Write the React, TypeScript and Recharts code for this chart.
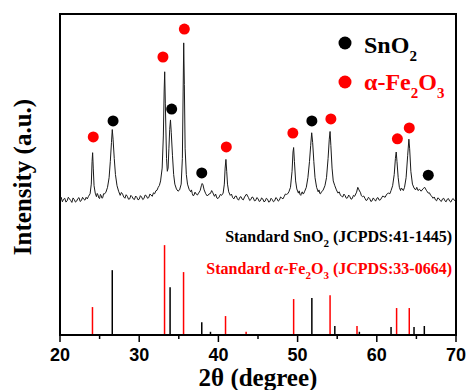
import { ComposedChart, Line, Scatter, XAxis, YAxis, ReferenceLine, ReferenceArea } from "recharts";

const SERIF = "'Liberation Serif', 'Times New Roman', serif";
const SANS = "'Liberation Sans', Arial, sans-serif";
const RED = "#ff0000";

// measured XRD pattern: [2theta, intensity]
const PATTERN: [number, number][] = [
  [20.0, 42.1], [20.15, 42.9], [20.3, 41.5], [20.45, 42.3], [20.6, 42.6], [20.75, 41.4], [20.9, 41.8],
  [21.05, 42.9], [21.2, 42.4], [21.35, 41.9], [21.5, 41.3], [21.65, 42.7], [21.8, 42.2], [21.95, 41.4],
  [22.1, 41.7], [22.25, 42.5], [22.4, 42.8], [22.55, 41.6], [22.7, 41.9], [22.85, 42.9], [23.0, 42.3],
  [23.15, 42.0], [23.3, 42.9], [23.45, 42.4], [23.6, 43.2], [23.8, 44.0],
  [23.95, 47], [24.05, 54], [24.12, 56.8], [24.2, 52], [24.3, 46.5], [24.45, 44.2], [24.6, 43.1],
  [24.7, 44.1], [24.8, 43.6], [24.9, 42.7], [25.0, 42.5], [25.1, 43.8], [25.2, 43.4], [25.3, 42.6],
  [25.4, 42.8], [25.5, 44.0], [25.6, 43.9], [25.8, 44.5], [26.0, 46.0],
  [26.2, 49], [26.35, 54], [26.5, 60], [26.6, 64], [26.7, 61], [26.85, 55], [27.0, 50], [27.2, 46.5],
  [27.4, 44.8], [27.6, 43.5], [27.75, 44.4], [27.9, 43.9], [28.05, 43.0], [28.2, 42.6], [28.35, 43.7],
  [28.5, 43.2], [28.65, 42.3], [28.8, 42.4], [28.95, 43.5], [29.1, 43.1], [29.25, 42.4], [29.4, 42.2],
  [29.55, 43.3], [29.7, 42.9], [29.85, 42.1], [30.0, 42.3], [30.15, 43.4], [30.3, 43.0], [30.45, 42.2],
  [30.6, 42.5], [30.75, 43.6], [30.9, 43.4], [31.05, 42.6], [31.2, 42.8], [31.35, 43.9], [31.5, 43.6],
  [31.65, 43.2], [31.8, 44.3], [31.95, 44.0], [32.1, 44.9], [32.25, 45.1], [32.4, 46], [32.55, 46.6],
  [32.7, 48], [32.9, 52], [33.05, 62],
  [33.15, 76], [33.22, 82], [33.3, 72], [33.45, 55], [33.55, 51], [33.65, 52], [33.75, 58],
  [33.85, 64], [33.95, 67], [34.05, 63], [34.2, 56], [34.35, 50], [34.5, 47], [34.7, 45.5],
  [34.9, 44.8], [35.1, 45.2], [35.3, 47], [35.45, 55], [35.55, 76], [35.62, 91], [35.7, 78],
  [35.8, 58], [35.95, 50], [36.1, 47], [36.3, 45.4], [36.5, 44.6], [36.6, 45.2], [36.7, 44.1],
  [36.8, 43.4], [36.9, 43.5], [37.05, 44.5], [37.2, 43.9], [37.35, 43.6], [37.5, 44.2], [37.7, 45],
  [37.85, 46.5], [37.95, 47.2], [38.05, 46.8], [38.2, 45.2],
  [38.4, 44.0], [38.6, 43.3], [38.8, 43.9], [39.0, 44.1], [39.15, 45], [39.3, 44.3], [39.5, 43.2],
  [39.65, 43.9], [39.8, 42.7], [39.95, 42.5], [40.1, 43.0], [40.25, 43.8], [40.4, 43.5], [40.6, 44.2],
  [40.75, 47], [40.85, 52], [40.95, 54.7],
  [41.05, 51], [41.15, 47], [41.3, 44.6], [41.5, 43.5], [41.65, 43.9], [41.8, 42.8], [41.95, 42.4],
  [42.1, 43.2], [42.25, 43.3], [42.4, 42.4], [42.55, 42.0], [42.7, 42.9], [42.85, 43.1], [43.0, 42.3],
  [43.15, 42.1], [43.3, 43.0], [43.55, 43.9], [43.8, 42.8], [43.95, 41.9], [44.1, 42.2], [44.25, 43.0],
  [44.4, 42.8], [44.55, 41.8], [44.7, 41.9], [44.85, 42.8], [45.0, 42.5], [45.15, 41.6], [45.3, 41.8],
  [45.45, 42.7], [45.6, 42.4], [45.75, 41.5], [45.9, 41.7], [46.05, 42.6], [46.2, 42.3], [46.35, 41.4],
  [46.5, 41.6], [46.65, 42.6], [46.8, 42.2], [46.95, 41.5], [47.1, 41.8], [47.25, 42.8], [47.4, 42.5],
  [47.55, 41.7], [47.7, 42.0], [47.85, 43.0], [48.0, 42.7], [48.15, 42.4], [48.3, 43.1], [48.45, 43.9],
  [48.6, 43.8], [48.75, 44.0],
  [48.9, 44.6], [49.1, 46], [49.3, 51], [49.42, 57], [49.5, 58.4], [49.6, 54], [49.75, 48],
  [49.9, 45.5], [50.1, 44.2], [50.2, 44.9], [50.3, 43.8], [50.4, 43.5], [50.5, 44.3], [50.6, 44.6],
  [50.7, 43.9], [50.8, 44.2], [50.9, 44.8], [51.1, 46],
  [51.3, 49], [51.5, 54], [51.65, 59], [51.78, 63], [51.9, 60], [52.05, 54], [52.2, 49], [52.4, 46],
  [52.6, 44.6], [52.7, 45.2], [52.8, 44.1], [52.9, 44.0], [53.0, 44.6], [53.2, 45], [53.45, 46.5],
  [53.65, 49], [53.85, 55],
  [54.0, 61], [54.1, 63.4], [54.2, 59], [54.35, 52], [54.5, 48], [54.7, 46.5], [54.9, 45.2],
  [55.1, 44.2], [55.25, 44.6], [55.4, 43.6], [55.55, 43.2], [55.7, 43.0], [55.85, 43.9], [56.0, 43.4],
  [56.15, 42.6], [56.3, 42.7], [56.45, 43.6], [56.6, 43.1], [56.75, 42.3], [56.9, 42.5], [57.05, 43.5],
  [57.2, 43.2], [57.45, 44.5], [57.6, 46], [57.75, 45.2], [57.95, 44.3], [58.05, 43.4], [58.2, 43.1],
  [58.35, 43.3], [58.5, 42.6], [58.65, 41.9], [58.8, 42.1], [58.95, 42.9], [59.1, 42.5], [59.25, 41.6],
  [59.4, 41.8], [59.55, 42.7], [59.7, 42.2], [59.85, 41.7], [60.0, 42.6], [60.15, 42.8], [60.3, 42.0],
  [60.45, 42.1], [60.6, 42.7], [60.75, 43.3], [60.9, 43.1], [61.05, 42.9], [61.2, 43.6], [61.35, 44.1],
  [61.5, 44.2], [61.65, 44.0], [61.8, 45], [62.0, 46.5], [62.2, 50], [62.35, 55],
  [62.45, 57], [62.55, 54], [62.7, 49], [62.85, 46], [63.0, 45], [63.1, 45.8], [63.2, 45.5], [63.35, 45.0],
  [63.5, 46], [63.7, 49], [63.9, 56], [64.05, 61], [64.15, 58], [64.3, 51], [64.5, 47], [64.7, 45.8],
  [64.9, 45.2], [65.05, 46], [65.2, 45], [65.4, 45.4], [65.6, 44.8], [65.85, 45.6], [66.05, 46],
  [66.25, 45.1], [66.5, 44.2], [66.65, 44.3], [66.8, 43.5], [66.95, 43.2], [67.1, 42.6], [67.25, 43.0],
  [67.4, 42.1], [67.55, 41.8], [67.7, 42.7], [67.85, 42.5], [68.0, 41.9], [68.15, 41.6], [68.3, 42.4],
  [68.45, 42.6], [68.6, 41.8], [68.75, 41.5], [68.9, 42.3], [69.05, 42.5], [69.2, 41.7], [69.35, 41.4],
  [69.5, 42.2], [69.65, 42.5], [69.8, 41.9], [70.0, 42.3],
];

// peak markers
const SNO2_PEAKS: [number, number][] = [
  [26.7, 66.7], [34.1, 70.4], [37.9, 50.5], [51.8, 66.7], [66.5, 49.8],
];
const FE2O3_PEAKS: [number, number][] = [
  [24.2, 61.7], [33.0, 86.6], [35.7, 95.3], [41.0, 58.6], [49.4, 62.9], [54.2, 67.3], [62.6, 61.1], [64.1, 64.5],
];

// standard reference sticks
const SNO2_STD: [number, number][] = [
  [26.6, 20.2], [33.9, 14.9], [37.9, 4.0], [39.0, 1.0], [51.8, 11.5], [54.7, 2.8],
  [57.8, 1.0], [61.8, 2.5], [64.7, 2.5], [66.0, 2.8],
];
const FE2O3_STD: [number, number][] = [
  [24.1, 8.7], [33.2, 28.0], [35.6, 19.6], [40.9, 5.9], [43.5, 1.0], [49.5, 11.2],
  [54.1, 12.4], [57.5, 2.8], [62.5, 8.4], [64.1, 8.4],
];

const X_TICKS = [20, 25, 30, 35, 40, 45, 50, 55, 60, 65, 70];

const pattern = PATTERN.map(([x, y]) => ({ x, y }));
const snPeaks = SNO2_PEAKS.map(([x, y]) => ({ x, y }));
const fePeaks = FE2O3_PEAKS.map(([x, y]) => ({ x, y }));

function Tick(props: any) {
  const { x, y, payload } = props;
  const major = payload.value % 10 === 0;
  return (
    <g>
      <line x1={x} x2={x} y1={y} y2={y + (major ? 7 : 4)} stroke="#000" strokeWidth={1.5} />
      {major && (
        <text x={x} y={y + 26} textAnchor="middle" fontFamily={SANS} fontWeight="bold" fontSize={18} fill="#000">
          {payload.value}
        </text>
      )}
    </g>
  );
}

export default function App() {
  return (
    <div style={{ position: "absolute", left: 0, top: 0, width: 467, height: 390, background: "#fff" }}>
      <ComposedChart width={467} height={390} margin={{ top: 14, right: 11, left: 60, bottom: 0 }}>
        <XAxis
          type="number"
          dataKey="x"
          domain={[20, 70]}
          ticks={X_TICKS}
          allowDataOverflow
          height={55}
          tickSize={0}
          tickMargin={0}
          tickLine={false}
          tick={<Tick />}
          axisLine={{ stroke: "#000", strokeWidth: 2 }}
        />
        <YAxis type="number" domain={[0, 100]} hide />
        <ReferenceArea x1={20} x2={70} y1={0} y2={100} fill="none" stroke="#000" strokeWidth={2} />
        {SNO2_STD.map(([x, h]) => (
          <ReferenceLine key={"s" + x} segment={[{ x, y: 0 }, { x, y: h }]} stroke="#000" strokeWidth={1.5} />
        ))}
        {FE2O3_STD.map(([x, h]) => (
          <ReferenceLine key={"f" + x} segment={[{ x, y: 0 }, { x, y: h }]} stroke={RED} strokeWidth={1.5} />
        ))}
        <Line data={pattern} dataKey="y" type="linear" stroke="#1a1a1a" strokeWidth={1} dot={false} isAnimationActive={false} />
        <Scatter data={snPeaks} dataKey="y" fill="#000" isAnimationActive={false}
          shape={(p: any) => <circle cx={p.cx} cy={p.cy} r={5.5} fill="#000" />} />
        <Scatter data={fePeaks} dataKey="y" fill={RED} isAnimationActive={false}
          shape={(p: any) => <circle cx={p.cx} cy={p.cy} r={5.5} fill={RED} />} />
      </ComposedChart>
      <svg width={467} height={390} style={{ position: "absolute", left: 0, top: 0, pointerEvents: "none" }}>
        <g fontFamily={SERIF} fontWeight="bold">
          <circle cx={345} cy={43} r={6.5} fill="#000" />
          <text x={364} y={53} fontSize={24} fill="#000">
            SnO<tspan fontSize={15} dy={8}>2</tspan>
          </text>
          <circle cx={345} cy={82} r={6.5} fill={RED} />
          <text x={364} y={90} fontSize={24} fill={RED}>
            α-Fe<tspan fontSize={15} dy={8}>2</tspan><tspan dy={-8}>O</tspan><tspan fontSize={15} dy={8}>3</tspan>
          </text>
          <text x={452} y={242} fontSize={16} textAnchor="end" fill="#000">
            Standard SnO<tspan fontSize={11} dy={5}>2</tspan><tspan dy={-5}> (JCPDS:41-1445)</tspan>
          </text>
          <text x={452} y={274} fontSize={16} textAnchor="end" fill={RED}>
            Standard <tspan fontStyle="italic">α</tspan>-Fe<tspan fontSize={11} dy={5}>2</tspan><tspan dy={-5}>O</tspan><tspan fontSize={11} dy={5}>3</tspan><tspan dy={-5}> (JCPDS:33-0664)</tspan>
          </text>
          <text x={31} y={177} fontSize={25} textAnchor="middle" fill="#000" transform="rotate(-90, 31, 177)">
            Intensity (a.u.)
          </text>
          <text x={258} y={386} fontSize={25} textAnchor="middle" fill="#000">
            2θ (degree)
          </text>
        </g>
      </svg>
    </div>
  );
}
